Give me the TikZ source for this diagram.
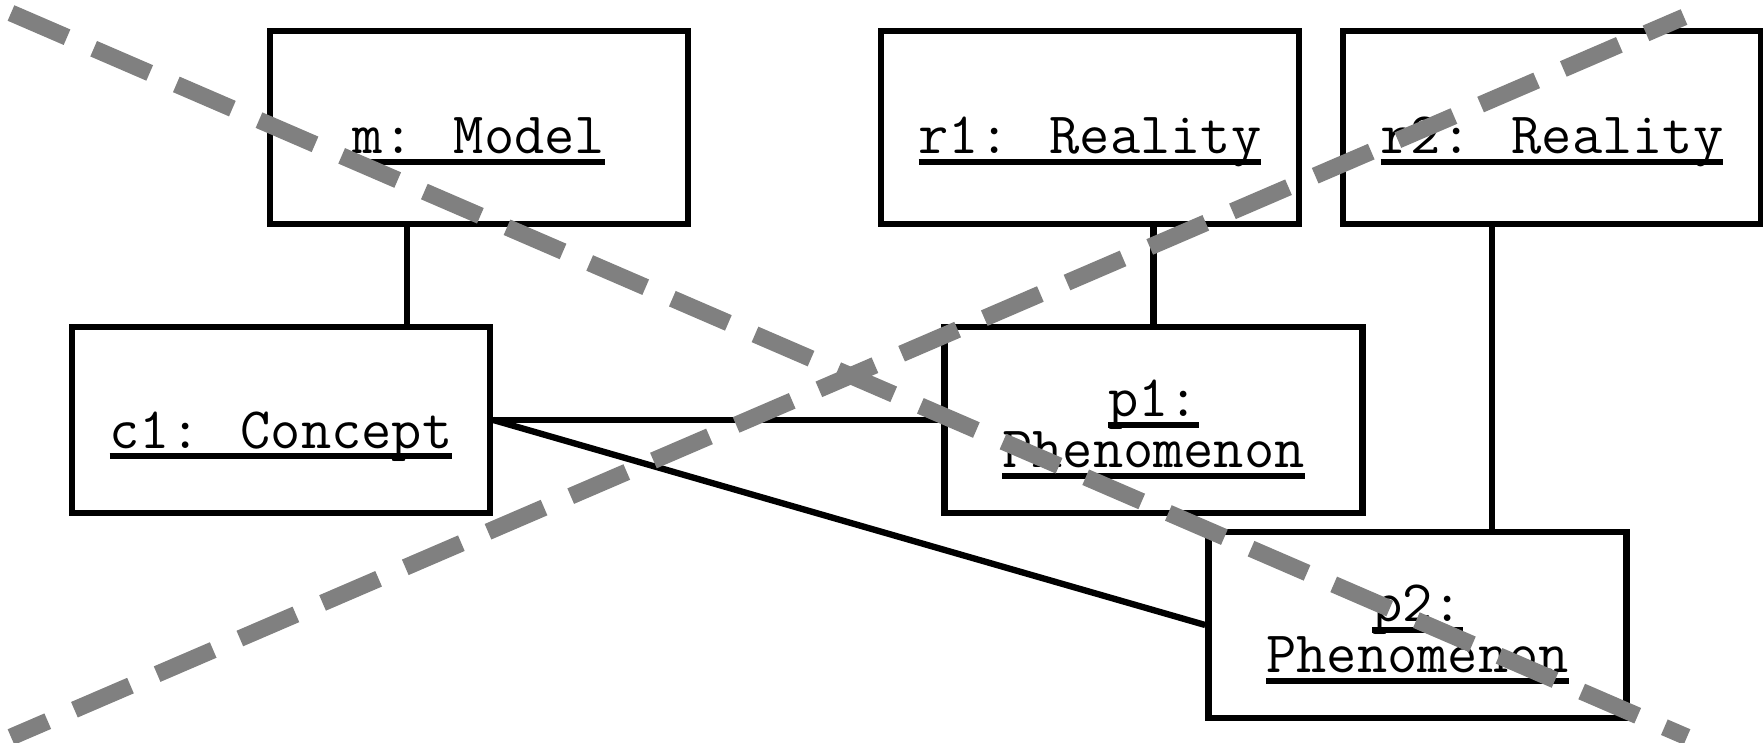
\documentclass[tikz,border=0pt]{standalone}
\usepackage{fontspec}

\newcommand{\uname}[1]{\setbox0\hbox{#1}\copy0\llap{\rule[-3.2pt]{\wd0}{1.7pt}}}
\newcommand{\objlbl}[2]{\raisebox{#1}[0pt][0pt]{\begin{tabular}[t]{@{}c@{}}#2\end{tabular}}}

\begin{document}
\begin{tikzpicture}[x=0.01cm,y=-0.01cm,
  obj/.style={draw,line width=1.8pt,minimum width=4.18cm,minimum height=1.86cm,
    inner sep=0pt,font=\ttfamily\fontsize{16.7}{14.2}\selectfont},
  tall/.style={minimum height=1.93cm},
  link/.style={line width=1.8pt},
  crossout/.style={draw=gray,line width=4.8pt,dash pattern=on 0.61cm off 0.29cm}]

  \useasboundingbox (0,0) rectangle (1763,742);

  \def\sg{-7.5pt}\def\db{0.9pt}

  \node[obj,tall] (m) at (479,127.5) {\objlbl{\sg}{\uname{m: Model}}};
  \node[obj,tall] (r1) at (1090,127.5) {\objlbl{\sg}{\uname{r1: Reality}}};
  \node[obj,tall] (r2) at (1552,127.5) {\objlbl{\sg}{\uname{r2: Reality}}};

  \node[obj] (c1) at (281,420) {\objlbl{-8pt}{\uname{c1: Concept}}};
  \node[obj] (p1) at (1153.5,420) {\objlbl{\db}{\uname{p1:}\\\uname{Phenomenon}}};
  \node[obj] (p2) at (1417.5,625) {\objlbl{\db}{\uname{p2:}\\\uname{Phenomenon}}};

  \draw[link] ([xshift=-7.2mm]m.south) -- ([xshift=-7.2mm]m.south |- c1.north);
  \draw[link] (p1.north |- r1.south) -- (p1.north);
  \draw[link] ([xshift=-6mm]r2.south) -- ([xshift=-6mm]r2.south |- p2.north);

  \draw[link] (c1.east) -- (p1.west);
  \draw[link] (c1.east) -- (p2.west);

  \coordinate (a1) at (11,13);
  \coordinate (a2) at (1687,737);
  \coordinate (b1) at (11,737);
  \coordinate (b2) at (1684,17);

  \draw[crossout] (a1) -- (a2);
  \draw[crossout,dash phase=0.21cm] (b1) -- (b2);

\end{tikzpicture}
\end{document}
